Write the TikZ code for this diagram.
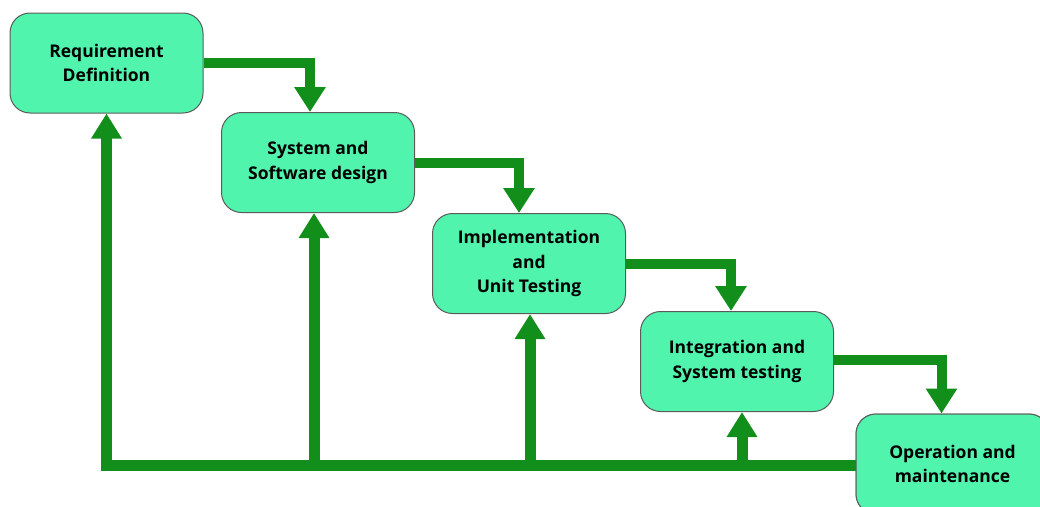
\documentclass[tikz,border=0pt]{standalone}
\usepackage{fontspec}
\setmainfont{Open Sans}
\usetikzlibrary{arrows.meta}
\definecolor{boxfill}{HTML}{50F4AD}
\definecolor{boxline}{HTML}{5A5A5A}
\definecolor{flowgreen}{HTML}{128F1A}
\tikzset{
  phase/.style={draw=boxline, line width=1pt, fill=boxfill, rounded corners=20pt,
    minimum width=193pt, minimum height=100pt, align=center, inner sep=0pt,
    font=\fontsize{17.5}{24.5}\selectfont\bfseries},
  flow/.style={draw=flowgreen, line width=10pt,
    -{Triangle[width=30pt,length=25pt]}, color=flowgreen},
  back/.style={draw=flowgreen, line width=11pt, color=flowgreen, line join=miter},
  backup/.style={back, -{Triangle[width=29pt,length=25pt]}}
}
\begin{document}
\begin{tikzpicture}[x=1pt,y=-1pt]
  \useasboundingbox (0,0) rectangle (1040,506);
  \clip (0,0) rectangle (1040,506);

  % feedback bus along the bottom
  \coordinate (corner) at (106.5,465);
  % the five phases
  \node[phase] (b1) at (106.5,63)  {Requirement\\Definition};
  \node[phase] (b2) at (318,162.5) {System and\\Software design};
  \node[phase] (b3) at (529,263.5) {Implementation\\and\\Unit Testing};
  \node[phase] (b4) at (737,361.5) {Integration and\\System testing};
  \node[phase] (b5) at (952.5,464) {Operation and\\maintenance};

  % forward flow between phases
  \draw[flow] (b1.east) -| ([xshift=-8pt]b2.north);
  \draw[flow] (b2.east) -| ([xshift=-10pt]b3.north);
  \draw[flow] (b3.east) -| ([xshift=-6pt]b4.north);
  \draw[flow] ([yshift=1.5pt]b4.east) -| ([xshift=-11pt]b5.north);

  % feedback to earlier phases
  \draw[backup] (b5.west |- corner) -- (corner) -- (b1.south);
  \draw[backup] ([xshift=-4pt]b2.south |- corner) -- ([xshift=-4pt]b2.south);
  \draw[backup] ([xshift=1pt]b3.south |- corner) -- ([xshift=1pt]b3.south);
  \draw[backup] ([xshift=5pt]b4.south |- corner) -- ([xshift=5pt]b4.south);

  % the last phase sits above the bus
  \node[phase] at (b5) {Operation and\\maintenance};
\end{tikzpicture}
\end{document}
